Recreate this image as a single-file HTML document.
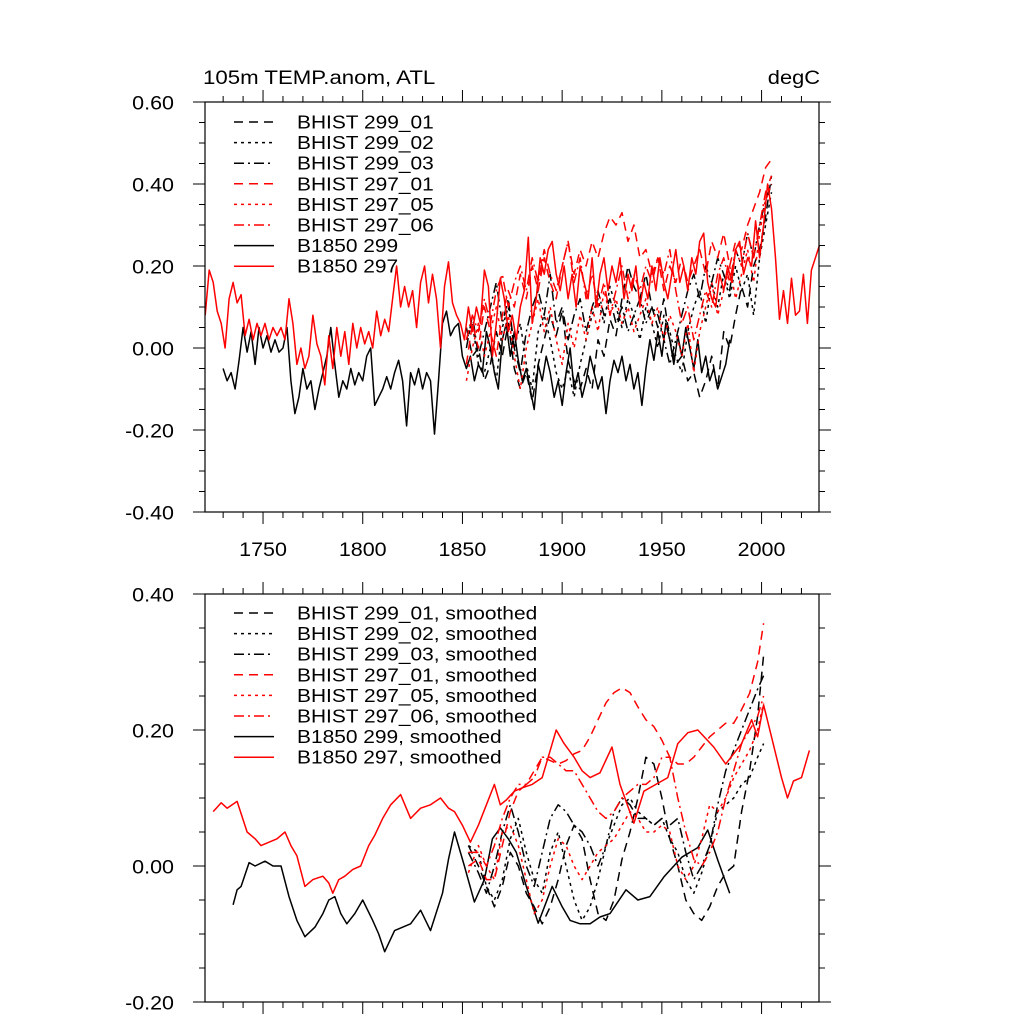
<!DOCTYPE html>
<html><head><meta charset="utf-8"><style>
html,body{margin:0;padding:0;background:#fff}
svg{display:block}
text{font-family:"Liberation Sans",sans-serif;fill:#000}
</style></head><body>
<svg id="chart" width="1024" height="1024" viewBox="0 0 1024 1024"></svg>
<script>
// ---------- DATA ----------
const r297Start = 1721, r297Step = 2;
const b1850_297 = [0.08,0.19,0.16,0.09,0.06,0.0,0.12,0.16,0.11,0.13,0.03,0.07,0.02,0.06,0.03,0.06,0.02,0.05,0.03,0.05,0.02,0.12,0.06,-0.04,0.0,-0.05,-0.02,0.08,0.01,-0.02,-0.09,0.03,-0.05,0.05,-0.02,0.04,-0.04,0.06,0.0,0.05,0.01,0.04,0.0,0.09,0.03,0.07,0.04,0.12,0.20,0.10,0.15,0.10,0.14,0.05,0.16,0.20,0.11,0.18,0.12,0.0,0.15,0.21,0.11,0.08,0.06,0.02,0.10,0.04,0.10,0.06,0.19,0.15,-0.02,0.06,0.17,0.12,0.04,0.08,0.02,0.10,0.14,0.27,0.06,0.12,0.22,0.18,0.24,0.26,0.18,0.14,0.20,0.12,0.18,0.10,0.20,0.16,0.12,0.22,0.10,0.18,0.22,0.14,0.20,0.16,0.22,0.12,0.18,0.14,0.20,0.10,0.16,0.12,0.20,0.14,0.22,0.16,0.12,0.18,0.24,0.16,0.20,0.14,0.22,0.18,0.26,0.28,0.16,0.12,0.10,0.18,0.14,0.20,0.16,0.24,0.26,0.18,0.22,0.20,0.31,0.22,0.30,0.40,0.34,0.22,0.07,0.14,0.06,0.17,0.08,0.09,0.18,0.06,0.19,0.22,0.25];
const r299Start = 1730, r299Step = 2;
const b1850_299 = [-0.05,-0.08,-0.06,-0.10,-0.03,0.05,-0.01,0.04,-0.04,0.05,0.0,0.03,-0.01,0.02,-0.01,0.0,0.05,-0.08,-0.16,-0.12,-0.05,-0.10,-0.08,-0.15,-0.10,-0.06,-0.02,0.05,-0.04,-0.12,-0.08,-0.10,-0.05,-0.09,-0.06,-0.08,-0.02,0.0,-0.14,-0.12,-0.10,-0.07,-0.10,-0.06,-0.03,-0.08,-0.19,-0.06,-0.09,-0.05,-0.10,-0.06,-0.08,-0.21,-0.08,0.06,0.09,0.03,0.05,0.06,-0.02,-0.05,-0.02,-0.08,-0.04,-0.06,0.04,0.0,-0.06,-0.10,0.02,0.06,-0.02,0.04,-0.03,-0.08,-0.05,-0.10,-0.15,-0.04,-0.08,-0.02,-0.06,-0.12,-0.08,-0.14,-0.06,0.0,-0.10,-0.06,-0.12,-0.08,-0.02,-0.06,-0.10,-0.07,-0.16,-0.08,-0.03,-0.06,-0.02,-0.08,-0.04,-0.10,-0.06,-0.14,-0.05,0.02,-0.03,0.04,-0.02,0.06,0.02,-0.04,0.03,-0.02,0.05,0.0,-0.05,0.02,-0.06,-0.02,-0.08,-0.05,-0.10,-0.07,-0.04,0.02];
const histStart = 1852, histStep = 3;
const h299_01 = [0.05,-0.02,0.0,-0.08,-0.04,0.04,-0.02,0.06,-0.05,-0.10,-0.06,-0.13,-0.04,0.02,0.08,0.03,0.09,-0.03,-0.08,-0.1,-0.05,-0.1,0.02,-0.02,0.07,0.03,0.12,0.2,0.15,0.12,0.18,0.1,0.05,0.12,0.02,-0.04,-0.02,-0.08,-0.06,-0.12,-0.08,-0.02,-0.1,0.04,0.0,0.08,0.15,0.1,0.2,0.24,0.32,0.42];
const h299_02 = [0.02,0.06,-0.04,-0.06,0.0,-0.08,0.05,0.1,0.0,0.06,-0.04,-0.1,0.04,0.08,0.02,-0.06,-0.1,-0.05,-0.12,-0.04,0.02,0.08,0.12,0.06,0.15,0.1,0.05,0.12,0.08,0.02,0.1,0.06,0.0,0.08,0.04,-0.02,-0.06,0.04,0.1,0.14,0.06,0.16,0.1,0.18,0.12,0.2,0.14,0.18,0.08,0.22,0.3,0.38];
const h299_03 = [0.0,0.08,-0.02,0.04,0.1,0.16,0.06,0.12,0.0,-0.06,0.04,0.1,0.14,0.08,0.18,0.06,0.1,0.02,0.08,0.12,0.04,0.1,0.14,0.08,0.12,0.06,0.1,0.04,0.08,0.12,0.06,0.1,0.08,0.02,-0.04,0.02,0.08,0.14,0.18,0.12,0.2,0.16,0.22,0.18,0.14,0.24,0.2,0.28,0.22,0.3,0.36,0.4];
const h297_01 = [-0.04,0.06,0.0,0.1,0.04,-0.02,0.08,0.14,0.1,0.18,0.12,0.2,0.14,0.22,0.16,0.12,0.2,0.26,0.18,0.24,0.2,0.26,0.22,0.28,0.32,0.3,0.33,0.26,0.3,0.22,0.24,0.18,0.22,0.14,0.2,0.16,0.22,0.16,0.2,0.24,0.18,0.26,0.22,0.28,0.2,0.26,0.24,0.3,0.34,0.38,0.44,0.46];
const h297_05 = [-0.08,0.0,0.06,-0.02,0.04,0.1,0.02,0.08,-0.02,-0.1,0.0,0.06,0.12,0.04,0.1,0.02,-0.04,0.06,0.0,0.08,0.02,0.1,0.04,0.14,0.08,0.12,0.06,0.1,0.04,0.08,0.12,0.06,0.1,0.02,0.08,0.04,-0.02,0.06,-0.06,0.04,0.1,0.16,0.08,0.14,0.2,0.12,0.18,0.24,0.16,0.28,0.36,0.4];
const h297_06 = [0.02,0.08,0.04,0.12,0.06,0.14,0.18,0.1,0.16,0.2,0.14,0.22,0.16,0.24,0.18,0.14,0.2,0.26,0.16,0.22,0.12,0.18,0.1,0.16,0.08,0.14,0.2,0.12,0.18,0.14,0.2,0.16,0.22,0.18,0.24,0.14,0.06,0.1,0.02,0.08,0.14,0.1,0.18,0.22,0.16,0.24,0.2,0.28,0.22,0.3,0.38,0.42];

// smoothed series (bottom panel)
const sR297Years = [1725,1729,1732,1737,1742,1746,1749,1753,1757,1761,1764,1767,1771,1775,1780,1783,1785,1788,1791,1795,1799,1803,1806,1810,1814,1819,1824,1829,1834,1839,1843,1846,1850,1854,1858,1862,1866,1869,1872,1876,1880,1885,1890,1894,1897,1901,1906,1910,1914,1919,1925,1929,1936,1941,1947,1953,1958,1963,1968,1976,1982,1990,1995,1998,2001,2005,2010,2013,2016,2020,2024];
const sR297Vals = [0.08,0.093,0.085,0.095,0.05,0.04,0.03,0.035,0.04,0.05,0.03,0.015,-0.03,-0.02,-0.015,-0.025,-0.04,-0.02,-0.015,-0.005,0.0,0.03,0.045,0.07,0.09,0.105,0.07,0.085,0.09,0.10,0.085,0.08,0.06,0.035,0.06,0.09,0.12,0.09,0.097,0.11,0.115,0.12,0.13,0.17,0.2,0.18,0.16,0.14,0.13,0.137,0.175,0.12,0.063,0.11,0.12,0.13,0.18,0.196,0.2,0.175,0.15,0.18,0.215,0.19,0.237,0.19,0.13,0.10,0.125,0.13,0.17];
const sR299Years = [1735,1737,1739,1743,1746,1751,1755,1759,1763,1767,1771,1776,1780,1783,1786,1789,1792,1796,1800,1805,1808,1811,1816,1820,1824,1829,1834,1840,1843,1846,1851,1856,1861,1865,1869,1873,1877,1882,1888,1895,1900,1904,1909,1914,1919,1924,1932,1938,1944,1951,1960,1968,1973,1978,1984];
const sR299Vals = [-0.057,-0.035,-0.03,0.005,0.0,0.007,0.0,0.0,-0.045,-0.08,-0.104,-0.09,-0.07,-0.05,-0.045,-0.07,-0.085,-0.07,-0.05,-0.08,-0.1,-0.126,-0.095,-0.09,-0.085,-0.065,-0.095,-0.04,0.01,0.05,0.0,-0.053,-0.02,0.04,0.056,0.04,0.02,-0.03,-0.084,-0.03,-0.06,-0.08,-0.085,-0.085,-0.075,-0.07,-0.035,-0.05,-0.045,-0.016,0.013,0.027,0.053,0.009,-0.04];
const sHistYears = [1853,1858,1862,1866,1870,1874,1878,1882,1886,1890,1894,1898,1902,1906,1910,1914,1918,1922,1926,1930,1934,1938,1942,1946,1950,1954,1958,1962,1966,1970,1974,1978,1982,1986,1990,1994,1998,2001];
const sH299_01 = [0.03,0.0,-0.03,-0.06,-0.03,0.02,0.0,-0.04,-0.06,-0.085,-0.06,-0.02,0.03,0.06,0.04,-0.02,-0.07,-0.08,-0.05,0.01,0.05,0.1,0.16,0.15,0.1,0.04,0.0,-0.05,-0.07,-0.08,-0.06,-0.03,-0.01,0.0,0.08,0.14,0.22,0.31];
const sH299_02 = [0.03,0.02,-0.03,-0.05,-0.02,0.04,0.07,0.02,-0.02,-0.04,0.02,0.05,0.0,-0.05,-0.08,-0.06,-0.02,0.03,0.06,0.09,0.1,0.08,0.07,0.06,0.07,0.04,0.02,-0.02,-0.04,-0.01,0.03,0.08,0.09,0.1,0.12,0.13,0.16,0.18];
const sH299_03 = [0.02,-0.01,-0.04,0.0,0.05,0.09,0.05,0.0,-0.03,0.02,0.07,0.09,0.08,0.06,0.05,0.03,0.0,0.03,0.08,0.1,0.09,0.07,0.07,0.06,0.07,0.06,0.07,0.02,-0.02,0.0,0.03,0.09,0.14,0.17,0.2,0.23,0.26,0.28];
const sH297_01 = [0.0,0.01,-0.02,-0.02,0.03,0.08,0.11,0.12,0.14,0.16,0.155,0.15,0.155,0.165,0.17,0.19,0.215,0.24,0.255,0.262,0.255,0.234,0.215,0.205,0.185,0.16,0.15,0.15,0.16,0.175,0.19,0.2,0.21,0.21,0.23,0.254,0.3,0.357];
const sH297_05 = [-0.01,0.03,0.0,-0.02,0.05,0.06,0.03,-0.02,-0.07,-0.05,0.0,0.04,0.03,0.0,-0.02,0.0,0.02,0.03,0.04,0.06,0.08,0.07,0.05,0.05,0.06,0.05,0.0,-0.02,0.0,0.04,0.09,0.08,0.1,0.13,0.15,0.17,0.2,0.24];
const sH297_06 = [0.02,0.02,0.0,0.03,0.07,0.1,0.12,0.12,0.13,0.16,0.16,0.15,0.14,0.14,0.12,0.1,0.08,0.07,0.08,0.1,0.11,0.12,0.12,0.13,0.16,0.16,0.1,0.05,0.01,0.0,0.02,0.05,0.1,0.14,0.18,0.2,0.22,0.25];

const yTicksTop = [0.6,0.4,0.2,0.0,-0.2,-0.4];
const yTickLabelsTop = ["0.60","0.40","0.20","0.00","-0.20","-0.40"];
const yTicksBot = [0.4,0.2,0.0,-0.2];
const yTickLabelsBot = ["0.40","0.20","0.00","-0.20"];
const xTicks = [1750,1800,1850,1900,1950,2000];

// ---------- DRAW ----------
const NS = "http://www.w3.org/2000/svg";
const svgEl = document.getElementById('chart');
function mk(tag, attrs, parent){ const e=document.createElementNS(NS,tag); for(const k in attrs) e.setAttribute(k,attrs[k]); (parent||svgEl).appendChild(e); return e; }
function stretch(t, f){ try{ const w=t.getComputedTextLength(); if(w>0){ t.setAttribute('textLength',(w*f).toFixed(1)); t.setAttribute('lengthAdjust','spacingAndGlyphs'); } }catch(e){} }

const pTop = {x0:205,x1:819,y0:102,y1:512,ymin:-0.4,ymax:0.6,xmin:1720.9,xmax:2028.8};
const pBot = {x0:205,x1:819,y0:594,y1:1002,ymin:-0.2,ymax:0.4,xmin:1720.9,xmax:2028.8};
function sx(p,v){ return p.x0+(v-p.xmin)/(p.xmax-p.xmin)*(p.x1-p.x0); }
function sy(p,v){ return p.y1-(v-p.ymin)/(p.ymax-p.ymin)*(p.y1-p.y0); }

const styles = { dash:"9,6", dot:"3,4", dashdot:"10,4,2,4", solid:null };
function drawSeries(p, years, vals, color, style, name){
  const n=Math.min(years.length, vals.length);
  let d='';
  for(let i=0;i<n;i++){ d+=(i?'L':'M')+sx(p,years[i]).toFixed(1)+','+sy(p,vals[i]).toFixed(1); }
  const a={d:d,fill:'none',stroke:color,'stroke-width':1.5,'stroke-linejoin':'round'};
  if(styles[style]) a['stroke-dasharray']=styles[style];
  const path=mk('path',a);
  
  
}
function yearsFrom(start, step, arr){ const y=[]; for(let i=0;i<arr.length;i++) y.push(start+i*step); return y; }

function drawAxes(p, yTicks, yLabels, xLabels, prefix){
  const g=mk('g',{});
  
  
  mk('rect',{x:p.x0,y:p.y0,width:p.x1-p.x0,height:p.y1-p.y0,fill:'none',stroke:'#000','stroke-width':1.2},g);
  const nMinor = Math.round((p.ymax-p.ymin)/0.05);
  for(let k=0;k<=nMinor;k++){
    const v=p.ymin+k*0.05;
    const major = Math.abs(Math.round(v*100))%20===0;
    const L = major?12:6;
    const y=sy(p,v);
    mk('line',{x1:p.x0-L,y1:y,x2:p.x0,y2:y,stroke:'#000','stroke-width':1},g);
    mk('line',{x1:p.x1,y1:y,x2:p.x1+L,y2:y,stroke:'#000','stroke-width':1},g);
  }
  yTicks.forEach((v,i)=>{
    const t=mk('text',{x:174,y:sy(p,v)+7.5,'text-anchor':'end','font-size':19},g);
    t.textContent=yLabels[i];
    
    
    stretch(t,1.13);
  });
  for(let yr=1730; yr<=p.xmax; yr+=10){
    const major = yr%50===0;
    const L = major?12:6;
    const x=sx(p,yr);
    mk('line',{x1:x,y1:p.y1,x2:x,y2:p.y1+L,stroke:'#000','stroke-width':1},g);
    mk('line',{x1:x,y1:p.y0-L,x2:x,y2:p.y0,stroke:'#000','stroke-width':1},g);
  }
  if(xLabels){
    xTicks.forEach(yr=>{
      const t=mk('text',{x:sx(p,yr),y:p.y1+44,'text-anchor':'middle','font-size':19},g);
      t.textContent=String(yr);
      
      
      stretch(t,1.13);
    });
  }
}

function legend(x, y0, entries, prefix){
  const g=mk('g',{});
  
  
  entries.forEach((e,i)=>{
    const y=y0+i*20.6;
    const a={x1:x,y1:y,x2:x+40,y2:y,stroke:e[1],'stroke-width':1.5};
    if(styles[e[2]]) a['stroke-dasharray']=styles[e[2]];
    mk('line',a,g);
    const t=mk('text',{x:x+63,y:y+6.5,'font-size':18.5},g);
    t.textContent=e[0];
    
    
    stretch(t,1.13);
  });
}

const t1=mk('text',{x:203,y:84,'font-size':19}); t1.textContent='105m TEMP.anom, ATL';


stretch(t1,1.17);
const t2=mk('text',{x:820,y:84,'font-size':19,'text-anchor':'end'}); t2.textContent='degC';


stretch(t2,1.15);

drawSeries(pTop, yearsFrom(r299Start,r299Step,b1850_299), b1850_299, '#000','solid','b1850-299-line');
drawSeries(pTop, yearsFrom(histStart,histStep,h299_01), h299_01, '#000','dash','bhist-299-01-line');
drawSeries(pTop, yearsFrom(histStart,histStep,h299_02), h299_02, '#000','dot','bhist-299-02-line');
drawSeries(pTop, yearsFrom(histStart,histStep,h299_03), h299_03, '#000','dashdot','bhist-299-03-line');
drawSeries(pTop, yearsFrom(histStart,histStep,h297_01), h297_01, '#f00','dash','bhist-297-01-line');
drawSeries(pTop, yearsFrom(histStart,histStep,h297_05), h297_05, '#f00','dot','bhist-297-05-line');
drawSeries(pTop, yearsFrom(histStart,histStep,h297_06), h297_06, '#f00','dashdot','bhist-297-06-line');
drawSeries(pTop, yearsFrom(r297Start,r297Step,b1850_297), b1850_297, '#f00','solid','b1850-297-line');
drawAxes(pTop, yTicksTop, yTickLabelsTop, true, 'top');
legend(234,122,[
 ['BHIST 299_01','#000','dash'],['BHIST 299_02','#000','dot'],['BHIST 299_03','#000','dashdot'],
 ['BHIST 297_01','#f00','dash'],['BHIST 297_05','#f00','dot'],['BHIST 297_06','#f00','dashdot'],
 ['B1850 299','#000','solid'],['B1850 297','#f00','solid']],'top');

drawSeries(pBot, sR299Years, sR299Vals, '#000','solid','b1850-299-smoothed-line');
drawSeries(pBot, sHistYears, sH299_01, '#000','dash','bhist-299-01-smoothed-line');
drawSeries(pBot, sHistYears, sH299_02, '#000','dot','bhist-299-02-smoothed-line');
drawSeries(pBot, sHistYears, sH299_03, '#000','dashdot','bhist-299-03-smoothed-line');
drawSeries(pBot, sHistYears, sH297_01, '#f00','dash','bhist-297-01-smoothed-line');
drawSeries(pBot, sHistYears, sH297_05, '#f00','dot','bhist-297-05-smoothed-line');
drawSeries(pBot, sHistYears, sH297_06, '#f00','dashdot','bhist-297-06-smoothed-line');
drawSeries(pBot, sR297Years, sR297Vals, '#f00','solid','b1850-297-smoothed-line');
drawAxes(pBot, yTicksBot, yTickLabelsBot, false, 'bottom');
legend(234,613,[
 ['BHIST 299_01, smoothed','#000','dash'],['BHIST 299_02, smoothed','#000','dot'],['BHIST 299_03, smoothed','#000','dashdot'],
 ['BHIST 297_01, smoothed','#f00','dash'],['BHIST 297_05, smoothed','#f00','dot'],['BHIST 297_06, smoothed','#f00','dashdot'],
 ['B1850 299, smoothed','#000','solid'],['B1850 297, smoothed','#f00','solid']],'bottom');
</script>
</body></html>
